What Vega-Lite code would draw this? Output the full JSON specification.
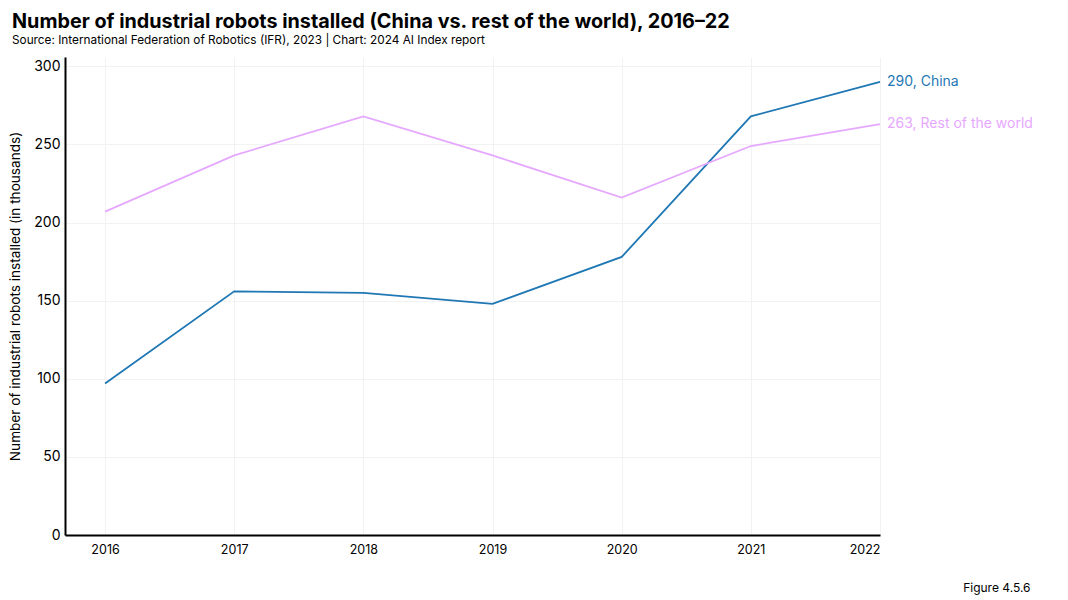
{
  "$schema": "https://vega.github.io/schema/vega-lite/v6.json",
  "autosize": "none",
  "width": 815,
  "height": 478,
  "padding": {"left": 65, "top": 57, "right": 188, "bottom": 65},
  "background": "white",
  "title": {
    "text": "Number of industrial robots installed (China vs. rest of the world), 2016–22",
    "subtitle": "Source: International Federation of Robotics (IFR), 2023 | Chart: 2024 AI Index report",
    "anchor": "start",
    "frame": "group",
    "dx": -53,
    "offset": 10,
    "font": "Inter",
    "fontSize": 19.8,
    "fontWeight": "bold",
    "color": "black",
    "subtitleFont": "Inter",
    "subtitleFontSize": 11.8,
    "subtitleColor": "black",
    "subtitlePadding": 3
  },
  "config": {
    "view": {"stroke": null},
    "font": "Inter"
  },
  "data": {
    "values": [
      {"year": 2016, "series": "China", "value": 97},
      {"year": 2017, "series": "China", "value": 156},
      {"year": 2018, "series": "China", "value": 155},
      {"year": 2019, "series": "China", "value": 148},
      {"year": 2020, "series": "China", "value": 178},
      {"year": 2021, "series": "China", "value": 268},
      {"year": 2022, "series": "China", "value": 290},
      {"year": 2016, "series": "Rest of the world", "value": 207},
      {"year": 2017, "series": "Rest of the world", "value": 243},
      {"year": 2018, "series": "Rest of the world", "value": 268},
      {"year": 2019, "series": "Rest of the world", "value": 243},
      {"year": 2020, "series": "Rest of the world", "value": 216},
      {"year": 2021, "series": "Rest of the world", "value": 249},
      {"year": 2022, "series": "Rest of the world", "value": 263}
    ]
  },
  "encoding": {
    "x": {
      "field": "year",
      "type": "quantitative",
      "scale": {"domain": [2015.69, 2022], "nice": false, "zero": false},
      "axis": {
        "values": [2016, 2017, 2018, 2019, 2020, 2021, 2022],
        "format": "d",
        "title": "Figure 4.5.6",
        "titleAnchor": "end",
        "titleAlign": "right",
        "titleBaseline": "middle",
        "titleX": 965,
        "titleY": 52,
        "titleFontSize": 12,
        "titleFontWeight": "normal",
        "titleColor": "black",
        "labelFontSize": 12.5,
        "labelColor": "black",
        "labelPadding": 8,
        "ticks": false,
        "domainColor": "black",
        "domainWidth": 2,
        "grid": true,
        "gridColor": "#f2f2f2",
        "gridWidth": 1
      }
    },
    "y": {
      "field": "value",
      "type": "quantitative",
      "scale": {"domain": [0, 306], "nice": false},
      "axis": {
        "values": [0, 50, 100, 150, 200, 250, 300],
        "title": "Number of industrial robots installed (in thousands)",
        "titleFontSize": 13.6,
        "titleFontWeight": "normal",
        "titleColor": "black",
        "titlePadding": 11,
        "labelFontSize": 14,
        "labelColor": "black",
        "labelPadding": 5,
        "ticks": false,
        "domainColor": "black",
        "domainWidth": 2,
        "grid": true,
        "gridColor": "#f2f2f2",
        "gridWidth": 1
      }
    },
    "color": {
      "field": "series",
      "type": "nominal",
      "scale": {"domain": ["China", "Rest of the world"], "range": ["#1f77b4", "#e6a8ff"]},
      "legend": null
    }
  },
  "layer": [
    {"mark": {"type": "line", "strokeWidth": 1.8}},
    {
      "transform": [
        {"filter": "datum.year === 2022"},
        {"calculate": "datum.value + ', ' + datum.series", "as": "label"}
      ],
      "mark": {"type": "text", "align": "left", "dx": 7, "fontSize": 14},
      "encoding": {"text": {"field": "label"}}
    }
  ]
}
